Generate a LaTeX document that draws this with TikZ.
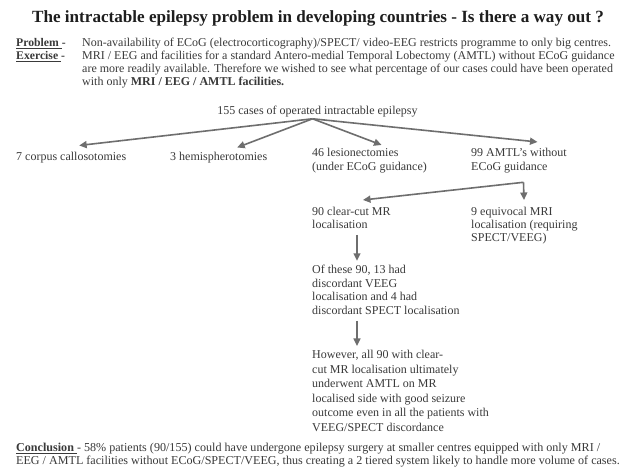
\documentclass[tikz,border=0pt]{standalone}
\usepackage{fontspec}
\setmainfont{Liberation Serif}
\usetikzlibrary{arrows.meta}
\definecolor{txt}{HTML}{3A3A3A}
\definecolor{ttl}{HTML}{1E1E1E}
\definecolor{arr}{HTML}{6E6E6E}
\begin{document}
\begin{tikzpicture}[x=1pt,y=-1pt,
  lbl/.style={anchor=base west, inner sep=0pt, text=txt, font=\fontsize{12}{13.7}\selectfont},
  blk/.style={lbl, align=left},
  toptxt/.style={anchor=base west, inner sep=0pt, text=txt, font=\fontsize{12}{13}\selectfont},
  toplab/.style={anchor=base west, inner sep=0pt, text=txt, font=\fontsize{11.7}{13}\bfseries},
  conn/.style={draw=arr, line width=1.6pt, -{Triangle[length=7.5pt,width=7pt]}}]
\useasboundingbox (0,0) rectangle (619,468);
\fill[white] (0,0) rectangle (619,468);
% title
\node[anchor=base west, inner sep=0pt, text=ttl, font=\fontsize{17.1}{20}\bfseries] (title) at (32,23)
  {The intractable epilepsy problem in developing countries - Is there a way out ?};
% problem / exercise
\node[toplab] (problab) at (16,47) {\underline{Problem }-};
\node[toptxt] (probtxt) at (82,47)
  {Non-availability of ECoG (electrocorticography)/SPECT/ video-EEG restricts programme to only big centres.};
\node[toplab] (exlab) at (16,60) {\underline{Exercise }-};
\node[toptxt] (extxt1) at (82,60)
  {MRI / EEG and facilities for a standard Antero-medial Temporal Lobectomy (AMTL) without ECoG guidance};
\node[toptxt] (extxt2) at (82,73)
  {are more readily available. Therefore we wished to see what percentage of our cases could have been operated};
\node[toptxt] (extxt3) at (82,86)
  {with only \textbf{MRI / EEG / AMTL facilities.}};
% tree
\node[anchor=base, inner sep=0pt, text=txt, font=\fontsize{12}{13.7}\selectfont] (root) at (317.5,114.5)
  {155 cases of operated intractable epilepsy};
\coordinate (apex) at ([xshift=-5pt,yshift=-1.5pt]root.south);
\node[lbl] (corpus) at (16,161) {7 corpus callosotomies};
\node[lbl] (hemi) at (170,161) {3 hemispherotomies};
\node[blk, font=\fontsize{12}{14}\selectfont] (lesion) at (312,170.5) {46 lesionectomies\\(under ECoG guidance)};
\node[blk, font=\fontsize{12}{14}\selectfont] (amtl) at (471,170.5) {99 AMTL's without\\ECoG guidance};
\draw[conn] (apex) -- ([xshift=8pt,yshift=7pt]corpus.north);
\draw[conn] (apex) -- ([xshift=18.5pt,yshift=5pt]hemi.north);
\draw[conn] (apex) -- ([xshift=12pt,yshift=3pt]lesion.north);
\draw[conn] (apex) -- ([xshift=18.5pt,yshift=6pt]amtl.north);
\node[blk, font=\fontsize{12}{13}\selectfont] (clear) at (312,228.5) {90 clear-cut MR\\localisation};
\node[blk, font=\fontsize{12}{13}\selectfont] (equiv) at (471,241.5) {9 equivocal MRI\\localisation (requiring\\SPECT/VEEG)};
\coordinate (corner) at ([xshift=4.5pt,yshift=-9pt]amtl.south);
\draw[conn] (corner) -- ([xshift=51pt,yshift=7pt]clear.north west);
\draw[conn] (corner) -- ([xshift=53pt,yshift=7pt]equiv.north west);
\node[blk] (disc) at (312,314.5) {Of these 90, 13 had\\discordant VEEG\\localisation and 4 had\\discordant SPECT localisation};
\draw[conn] ([xshift=45pt,yshift=-6pt]clear.south west) -- ([xshift=45pt,yshift=4pt]disc.north west);
\node[blk, font=\fontsize{12}{14.6}\selectfont] (however) at (312,431.5) {However, all 90 with clear-\\cut MR localisation ultimately\\underwent AMTL on MR\\localised side with good seizure\\outcome even in all the patients with\\VEEG/SPECT discordance};
\draw[conn] ([xshift=45pt,yshift=-6pt]disc.south west) -- ([xshift=45pt,yshift=4pt]however.north west);
% conclusion
\node[blk, font=\fontsize{12.1}{13}\selectfont] (concl) at (16,464.5)
  {\textbf{\underline{Conclusion }}- 58\% patients (90/155) could have undergone epilepsy surgery at smaller centres equipped with only MRI /\\EEG / AMTL facilities without ECoG/SPECT/VEEG, thus creating a 2 tiered system likely to handle more volume of cases.};
\end{tikzpicture}
\end{document}
